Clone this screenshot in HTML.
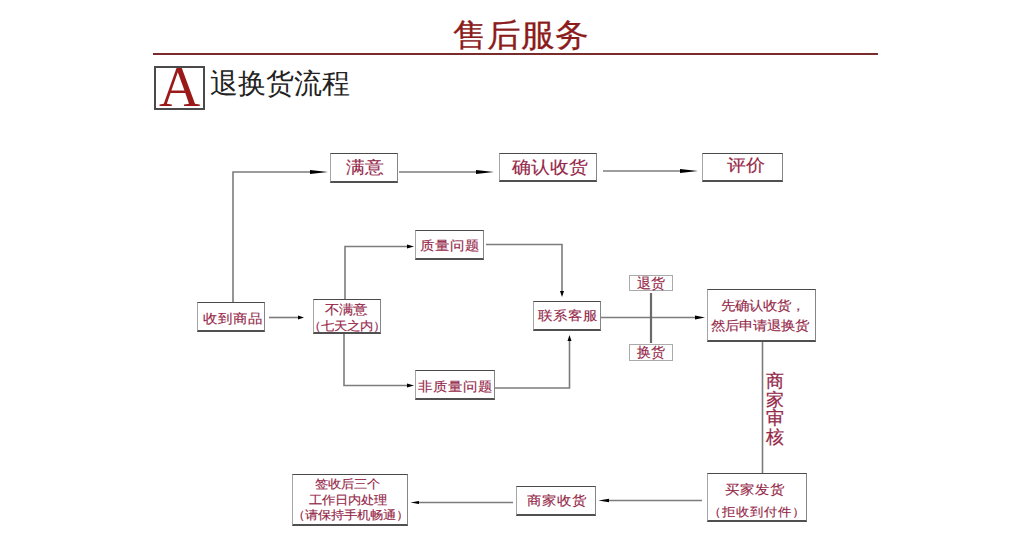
<!DOCTYPE html>
<html><head><meta charset="utf-8">
<style>
html,body{margin:0;padding:0;background:#fff;width:1030px;height:557px;overflow:hidden;position:relative;font-family:"Liberation Sans",sans-serif;}
.t{position:absolute;white-space:nowrap;line-height:1;}
.b{position:absolute;box-sizing:border-box;background:#fff;border-top:1.8px solid #4a4a4a;border-bottom:2px solid #505050;border-left:1.2px solid #a5a5a5;border-right:1.4px solid #858585;display:flex;flex-direction:column;align-items:center;justify-content:center;color:#952849;white-space:nowrap;-webkit-text-stroke:0.15px #952849;}
.b span{display:block;line-height:1;position:relative;transform:scaleY(0.9);}
svg{position:absolute;left:0;top:0;}
</style></head><body>
<div class="t" style="left:453px;top:17px;font-size:34px;color:#8c1c1c;transform:scaleY(0.95);transform-origin:50% 60%;-webkit-text-stroke:0.3px #8c1c1c;">售后服务</div>
<div style="position:absolute;left:153px;top:53px;width:725px;height:2px;background:#7a2c2c;"></div>
<div style="position:absolute;left:154px;top:66px;width:51px;height:44px;box-sizing:border-box;border:2px solid #4a4a4a;"></div>
<div class="t" style="left:159px;top:58px;font-family:'Liberation Serif',serif;font-size:57px;color:#9a1a1a;">A</div>
<div class="t" style="left:210px;top:70px;font-size:28px;color:#222;">退换货流程</div>

<svg width="1030" height="557">
<g stroke="#7c7c7c" stroke-width="1.6" fill="none">
<polyline points="233,302 233,172 312,172"/>
<line x1="399" y1="172" x2="480" y2="172"/>
<line x1="603" y1="171" x2="682" y2="171"/>
<line x1="269" y1="317.5" x2="299" y2="317.5"/>
<polyline points="345,299 345,246.5 408,246.5"/>
<polyline points="344,334 344,385.5 408,385.5"/>
<polyline points="486,244.5 562,244.5 562,292"/>
<polyline points="495,388 569.5,388 569.5,340"/>
<line x1="601" y1="317.5" x2="697" y2="317.5"/>
<line x1="651" y1="293" x2="651" y2="343" stroke-width="2.2" stroke="#6a6a6a"/>
<line x1="762.5" y1="342" x2="762.5" y2="473"/>
<line x1="702" y1="500.5" x2="606" y2="500.5"/>
<line x1="513" y1="502.5" x2="416" y2="502.5"/>
</g>
<g fill="#000">
<polygon points="310,170 328,172 310,174"/>
<polygon points="476,170 494,172 476,174"/>
<polygon points="680,169 698,171 680,173"/>
<polygon points="298,315.5 304,317.5 298,319.5"/>
<polygon points="407,244.5 414,246.5 407,248.5"/>
<polygon points="407,383.5 414,385.5 407,387.5"/>
<polygon points="560,291 562,297 564,291"/>
<polygon points="567.5,341 569.5,335 571.5,341"/>
<polygon points="695,315.5 705,317.5 695,319.5"/>
<polygon points="609,498.8 598.5,500.5 609,502.2"/>
<polygon points="419,501 410.5,502.5 419,504"/>
</g>
</svg>

<div class="b" style="left:330px;top:153px;width:68px;height:30px;font-size:18.5px;"><span style="left:1px;top:1px">满意</span></div>
<div class="b" style="left:499px;top:153px;width:98px;height:29px;font-size:18.5px;"><span style="left:1.5px;top:1px">确认收货</span></div>
<div class="b" style="left:702px;top:153px;width:81px;height:29px;font-size:18.5px;"><span style="left:3px;top:-1px">评价</span></div>
<div class="b" style="left:197px;top:302px;width:68px;height:30px;font-size:14.6px;"><span style="left:2px;top:1.5px">收到商品</span></div>
<div class="b" style="left:313px;top:299px;width:68px;height:35px;font-size:14.4px;"><span style="height:18px;left:-1px;top:1px">不满意</span><span style="font-size:13px;top:0.5px">（七天之内）</span></div>
<div class="b" style="left:415px;top:230px;width:69px;height:30px;font-size:14.5px;"><span style="top:0.5px">质量问题</span></div>
<div class="b" style="left:415px;top:370px;width:80px;height:30px;font-size:14.5px;"><span style="top:2px">非质量问题</span></div>
<div class="b" style="left:533px;top:301px;width:68px;height:30px;font-size:14.7px;"><span style="left:1px">联系客服</span></div>
<div class="b" style="left:629px;top:275px;width:44px;height:16px;font-size:13.5px;border-color:#aaa;border-width:1px;"><span style="top:0.5px;transform:none">退货</span></div>
<div class="b" style="left:629px;top:344px;width:44px;height:17px;font-size:13.5px;border-color:#aaa;border-width:1px;"><span style="top:0.5px;transform:none">换货</span></div>
<div class="b" style="left:707px;top:289px;width:109px;height:53px;font-size:14.5px;"><span style="height:20px;left:1.5px;font-size:14.2px">先确认收货，</span><span style="left:-1.5px;font-size:14.2px">然后申请退换货</span></div>
<div class="t" style="left:766px;top:372px;width:18px;font-size:17.5px;line-height:18.7px;color:#952849;white-space:normal;-webkit-text-stroke:0.25px #952849;">商<br>家<br>审<br>核</div>
<div class="b" style="left:707px;top:473px;width:100px;height:49px;font-size:14.7px;"><span style="height:22px;left:-2.5px;top:3px">买家发货</span><span style="font-size:13.5px;top:3.5px">（拒收到付件）</span></div>
<div class="b" style="left:516px;top:486px;width:80px;height:30px;font-size:14.6px;"><span style="left:1px">商家收货</span></div>
<div class="b" style="left:292px;top:474px;width:116px;height:52px;font-size:13px;"><span style="height:16px;left:-3px;top:1px">签收后三个</span><span style="height:16px;left:-2.5px;top:1px">工作日内处理</span><span style="height:16px">（请保持手机畅通）</span></div>
</body></html>
